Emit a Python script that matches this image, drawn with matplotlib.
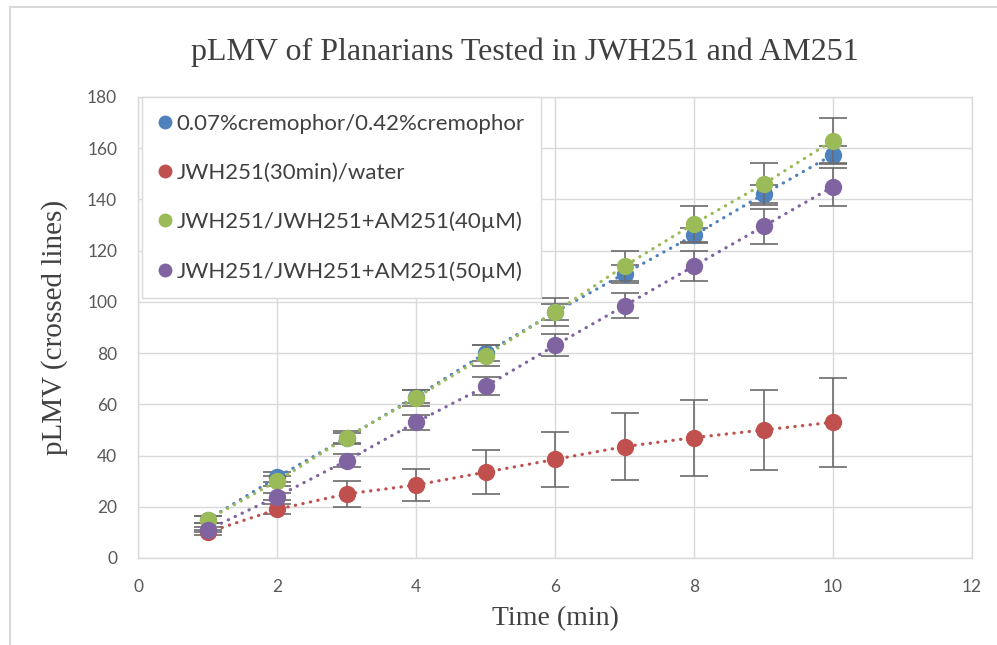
import matplotlib
matplotlib.use('Agg')
import matplotlib.pyplot as plt
from matplotlib.lines import Line2D

# data
time_min = [1, 2, 3, 4, 5, 6, 7, 8, 9, 10]

cremophor = [15, 31.5, 47, 63, 80, 96, 111, 126, 142, 157.5]
cremophor_err = [1.5, 2, 2, 2.5, 3, 3, 3.5, 3, 3.5, 3.5]

jwh_water = [10, 19, 25, 28.5, 33.5, 38.5, 43.5, 47, 50, 53]
jwh_water_err = [1, 2, 5, 6.2, 8.5, 10.8, 13, 14.8, 15.5, 17.3]

am251_40 = [15, 30, 47, 62.5, 79, 96, 114, 130.5, 146, 163]
am251_40_err = [1.5, 2, 2.5, 3, 4, 5.5, 6, 7, 8.3, 8.9]

am251_50 = [11, 24, 38, 53, 67, 83, 98.5, 114, 129.5, 145]
am251_50_err = [1, 1.5, 2.5, 3, 3.5, 4.3, 4.8, 5.7, 6.8, 7.4]

labels = ['0.07%cremophor/0.42%cremophor', 'JWH251(30min)/water',
          'JWH251/JWH251+AM251(40µM)', 'JWH251/JWH251+AM251(50µM)']
colors = ['#4F81BD', '#C0504D', '#9BBB59', '#8064A2']

series = [(cremophor, cremophor_err), (jwh_water, jwh_water_err),
          (am251_40, am251_40_err), (am251_50, am251_50_err)]

fig = plt.figure(figsize=(9.97, 6.45), dpi=100)
ax = fig.add_axes([138 / 997, 1 - 558 / 645, 834 / 997, 461 / 645])

grid_col = '#D9D9D9'
for i, ((vals, errs), c) in enumerate(zip(series, colors)):
    ax.errorbar(time_min, vals, yerr=errs, fmt='none', ecolor='#6B6B6B',
                elinewidth=1.2, capsize=10, capthick=1.2, zorder=3 + i * 2)
    ax.plot(time_min, vals, color=c, linestyle=(0, (0.1, 2.3)),
            dash_capstyle='round', linewidth=2.3, marker='o', markersize=12.5,
            markeredgewidth=0, zorder=4 + i * 2)

ax.set_xlim(0, 12)
ax.set_ylim(0, 180)
ax.set_xticks(range(0, 13, 2))
ax.set_yticks(range(0, 181, 20))
ax.grid(True, color=grid_col, linewidth=1)
ax.set_axisbelow(True)
for s in ax.spines.values():
    s.set_color(grid_col)
    s.set_linewidth(1)
ax.tick_params(length=0, labelsize=12.5, labelcolor='#595959', pad=15)
for lab in ax.get_xticklabels() + ax.get_yticklabels():
    lab.set_family('Lato')

serif = 'Liberation Serif'
ax.set_xlabel('Time (min)', family=serif, fontsize=20, color='#404040', labelpad=8)
ax.set_ylabel('pLMV (crossed lines)', family=serif, fontsize=21, color='#404040', labelpad=14)
fig.text(525 / 997, 1 - 52 / 645, 'pLMV of Planarians Tested in JWH251 and AM251',
         family=serif, fontsize=23, color='#404040', ha='center', va='center')

handles = [Line2D([], [], linestyle='none', marker='o', markersize=10,
                  markeredgewidth=0, color=c) for c in colors]
leg = ax.legend(handles, labels, loc='upper left', bbox_to_anchor=(0.005, 1.0),
                prop={'family': 'Lato', 'size': 16}, labelcolor='#404040',
                frameon=True, fancybox=False, framealpha=1, edgecolor=grid_col,
                handlelength=0.55, handletextpad=0.25, labelspacing=1.3,
                borderpad=0.75, borderaxespad=0)
leg.set_zorder(20)

# outer chart border (left and top visible in the reference)
fig.add_artist(Line2D([10 / 997, 10 / 997], [0, 1 - 7 / 645], color=grid_col, linewidth=1.5))
fig.add_artist(Line2D([10 / 997, 1], [1 - 7 / 645, 1 - 7 / 645], color=grid_col, linewidth=1.5))

fig.savefig('out.png', dpi=100)
